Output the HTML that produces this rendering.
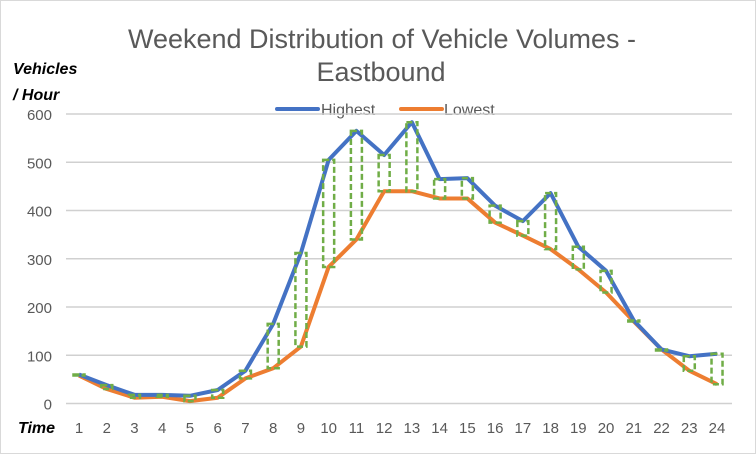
<!DOCTYPE html>
<html><head><meta charset="utf-8"><style>
html,body{margin:0;padding:0;background:#fff;}
svg{display:block;font-family:"Liberation Sans",sans-serif;}
</style></head><body>
<svg id="c" width="756" height="454" viewBox="0 0 756 454">
<rect x="0.5" y="0.5" width="755" height="453" fill="#fff" stroke="#d9d9d9"/>
<text x="382" y="48" text-anchor="middle" font-size="27" fill="#595959" textLength="508" lengthAdjust="spacingAndGlyphs">Weekend Distribution of Vehicle Volumes -</text>
<text x="381" y="81" text-anchor="middle" font-size="27" fill="#595959">Eastbound</text>
<text x="13" y="74" font-size="16" font-weight="bold" font-style="italic" fill="#000">Vehicles</text>
<text x="13" y="100" font-size="16" font-weight="bold" font-style="italic" fill="#000">/ Hour</text>
<text x="18" y="433" font-size="16" font-weight="bold" font-style="italic" fill="#000">Time</text>
<line x1="277" y1="109" x2="318" y2="109" stroke="#4472c4" stroke-width="4" stroke-linecap="round"/>
<text x="321" y="115" font-size="16" fill="#595959">Highest</text>
<line x1="401" y1="109" x2="442" y2="109" stroke="#ed7d31" stroke-width="4" stroke-linecap="round"/>
<text x="444" y="115" font-size="16" fill="#595959">Lowest</text>
<g id="g"></g>
</svg>
<script>
var H=[60,38,18,18,16,28,68,165,312,505,565,515,583,465,467,410,378,436,325,275,172,112,98,103];
var L=[58,30,12,14,5,12,52,73,118,283,340,440,440,425,425,375,348,320,278,230,170,112,68,40];
var g=document.getElementById('g'),s='';
function Y(v){return 403.5-v*0.4825;}
function X(i){return 79+i*27.74;}
for(var k=0;k<=6;k++){var y=Y(k*100);s+='<line x1="66" x2="732" y1="'+y+'" y2="'+y+'" stroke="#d0d0d0" stroke-width="1.6"/>';
s+='<text x="52" y="'+(y+6)+'" text-anchor="end" font-size="15" fill="#595959">'+(k*100)+'</text>';}
for(var i=0;i<24;i++){s+='<text x="'+X(i)+'" y="433" text-anchor="middle" font-size="15" fill="#595959">'+(i+1)+'</text>';}
function path(a,c){var d='';for(var i=0;i<24;i++)d+=(i?'L':'M')+X(i)+','+Y(a[i]);return '<path d="'+d+'" fill="none" stroke="'+c+'" stroke-width="4" stroke-linejoin="round"/>';}
s+=path(L,'#ed7d31')+path(H,'#4472c4');
for(var i=0;i<24;i++){var t=Y(H[i]),b=Y(L[i]);s+='<rect x="'+(X(i)-5.5)+'" y="'+t+'" width="11" height="'+Math.max(b-t,1)+'" fill="none" stroke="#70ad47" stroke-width="2.5" stroke-dasharray="6,3"/>';}
g.innerHTML=s;
</script>
</body></html>
